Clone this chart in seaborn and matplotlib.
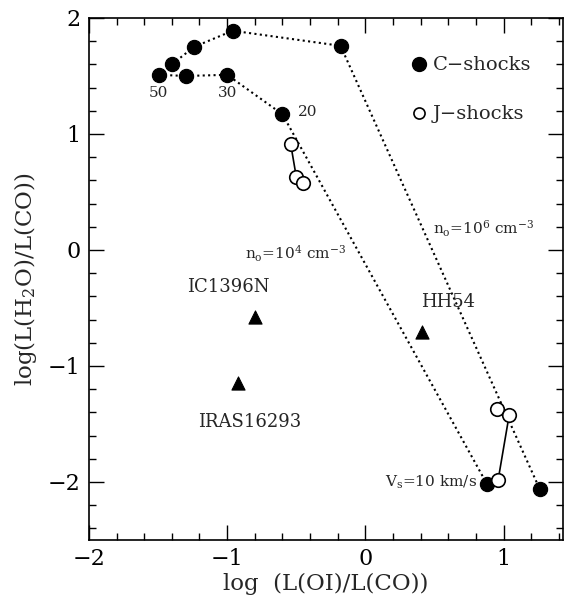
import numpy as np
import pandas as pd
import matplotlib
matplotlib.use("Agg")
import matplotlib.pyplot as plt
import seaborn as sns
from matplotlib.lines import Line2D
from matplotlib.ticker import MultipleLocator

# C-shock models (vs = 50, 40, 30, 20, 10 km/s)
c4_x = [-1.49, -1.30, -1.00, -0.60, 0.88]     # n0 = 1e4 cm^-3
c4_y = [1.51, 1.50, 1.51, 1.17, -2.02]
c6_x = [-1.40, -1.24, -0.96, -0.18, 1.26]     # n0 = 1e6 cm^-3
c6_y = [1.60, 1.75, 1.89, 1.76, -2.06]
# J-shock models
j4_x = [-0.54, -0.50, -0.45]
j4_y = [0.91, 0.63, 0.58]
j6_x = [0.955, 1.04, 0.96]
j6_y = [-1.37, -1.42, -1.98]
# Observed sources
obs_names = ["IC1396N", "IRAS16293", "HH54"]
obs_x = [-0.80, -0.92, 0.41]
obs_y = [-0.58, -1.15, -0.71]

c_df = pd.DataFrame({"x": c4_x + c6_x, "y": c4_y + c6_y,
                     "grp": ["n4"] * len(c4_x) + ["n6"] * len(c6_x)})
j_df = pd.DataFrame({"x": j4_x + j6_x, "y": j4_y + j6_y,
                     "grp": ["n4"] * len(j4_x) + ["n6"] * len(j6_x)})
o_df = pd.DataFrame({"x": obs_x, "y": obs_y, "name": obs_names})

sns.set_theme(style="ticks")
plt.rcParams["font.family"] = ["DejaVu Serif"]
plt.rcParams["mathtext.fontset"] = "dejavuserif"

fig = plt.figure(figsize=(5.66, 5.99), dpi=100)
ax = fig.add_axes([0.157, 0.0985, 0.838, 0.8715])

# dotted model tracks
for g in ["n4", "n6"]:
    sub = c_df[c_df.grp == g]
    sns.lineplot(data=sub, x="x", y="y", sort=False, estimator=None, ax=ax,
                 color="black", lw=1.5, linestyle=(0, (1.0, 1.6)), zorder=1)
# J-shock solid tracks
for g in ["n4", "n6"]:
    sub = j_df[j_df.grp == g]
    sns.lineplot(data=sub, x="x", y="y", sort=False, estimator=None, ax=ax,
                 color="black", lw=1.2, zorder=2)

sns.scatterplot(data=c_df, x="x", y="y", ax=ax, marker="o", s=105,
                color="black", edgecolor="black", zorder=3, legend=False)
sns.scatterplot(data=j_df, x="x", y="y", ax=ax, marker="o", s=95,
                facecolor="white", edgecolor="black", linewidth=1.2,
                zorder=4, legend=False)
sns.scatterplot(data=o_df, x="x", y="y", ax=ax, marker="^", s=90,
                color="black", edgecolor="black", zorder=3, legend=False)

ax.set_xlim(-2, 1.43)
ax.set_ylim(-2.5, 2)
ax.xaxis.set_major_locator(MultipleLocator(1))
ax.xaxis.set_minor_locator(MultipleLocator(0.2))
ax.yaxis.set_major_locator(MultipleLocator(1))
ax.yaxis.set_minor_locator(MultipleLocator(0.2))
ax.tick_params(which="both", direction="in", top=True, right=True,
               width=1.0, labelsize=16, colors="black")
ax.tick_params(which="major", length=11, pad=6)
ax.tick_params(which="minor", length=5)
for sp in ax.spines.values():
    sp.set_linewidth(1.2)
    sp.set_color("black")

ax.set_xlabel("log  (L(OI)/L(CO))", fontsize=16.5, labelpad=2)
ax.set_ylabel(r"log(L(H$_2$O)/L(CO))", fontsize=16.5, labelpad=6)

# source labels
ax.text(-1.29, -0.32, "IC1396N", fontsize=13, va="center", ha="left")
ax.text(-1.21, -1.48, "IRAS16293", fontsize=13, va="center", ha="left")
ax.text(0.40, -0.45, "HH54", fontsize=13, va="center", ha="left")
# model labels
ax.text(-0.87, -0.03, r"n$_\mathrm{o}$=10$^4$ cm$^{-3}$", fontsize=11,
        va="center", ha="left")
ax.text(0.49, 0.18, r"n$_\mathrm{o}$=10$^6$ cm$^{-3}$", fontsize=11,
        va="center", ha="left")
ax.text(-1.50, 1.35, "50", fontsize=11, va="center", ha="center")
ax.text(-1.00, 1.35, "30", fontsize=11, va="center", ha="center")
ax.text(-0.49, 1.19, "20", fontsize=11, va="center", ha="left")
ax.text(0.81, -2.0, r"V$_\mathrm{s}$=10 km/s", fontsize=11,
        va="center", ha="right")

handles = [Line2D([], [], marker="o", ls="none", color="black", ms=10),
           Line2D([], [], marker="o", ls="none", mfc="white", mec="black",
                  mew=1.2, ms=8)]
ax.legend(handles, ["C\u2212shocks", "J\u2212shocks"], loc="upper left",
          bbox_to_anchor=(0.635, 0.96), frameon=False, fontsize=14,
          handletextpad=0.1, labelspacing=1.6, handlelength=1.2)

fig.savefig("out.png", dpi=100)
